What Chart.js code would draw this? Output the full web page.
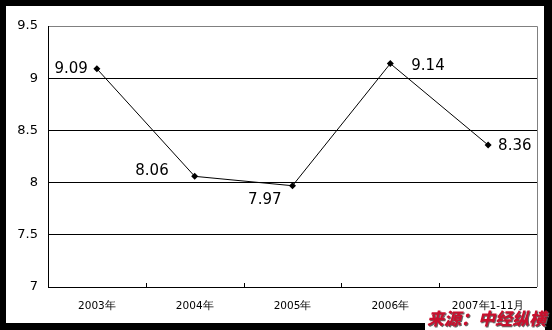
<!DOCTYPE html>
<html><head><meta charset="utf-8">
<script src="https://cdn.jsdelivr.net/npm/chart.js@4/dist/chart.umd.min.js"></script>
<style>
html,body{margin:0;padding:0;background:#000;width:552px;height:330px;overflow:hidden;}
#frame{position:absolute;left:6px;top:6px;width:538px;height:317px;background:#fff;}
#wrap{position:absolute;left:0;top:0;width:552px;height:330px;}
#srcbox{position:absolute;left:425px;top:312px;width:120px;height:18px;background:#fff;}
#src{position:absolute;left:427px;top:309px;font-family:"Noto Sans CJK SC";font-weight:900;font-style:italic;font-size:17px;line-height:18px;color:#c8102e;text-shadow:1px 1px 0 #666;white-space:nowrap;}
</style></head><body>
<div id="frame"></div>
<div id="srcbox"></div>
<div id="wrap"><canvas id="c" width="552" height="330"></canvas></div>
<div id="src">来源：中经纵横</div>
<script>
const categories = ["2003年","2004年","2005年","2006年","2007年1-11月"];
const values = [9.09, 8.06, 7.97, 9.14, 8.36];
const yTicks = [7, 7.5, 8, 8.5, 9, 9.5];
const yTickLabels = ["7","7.5","8","8.5","9","9.5"];
// label placement (style): side relative to point
const labelPlace = [
  {align:"right", dx:-9, dy:0},
  {align:"right", dx:-26, dy:-5},
  {align:"right", dx:-11, dy:14},
  {align:"left", dx:21, dy:3},
  {align:"left", dx:10, dy:1}
];

const dataLabels = {
  id:"dataLabels",
  afterDatasetsDraw(chart){
    const ctx = chart.ctx;
    const meta = chart.getDatasetMeta(0);
    ctx.save();
    ctx.font = "15px 'DejaVu Sans'";
    ctx.fillStyle = "#000";
    ctx.textBaseline = "middle";
    meta.data.forEach((pt,i)=>{
      const p = labelPlace[i];
      ctx.textAlign = p.align;
      ctx.fillText(values[i].toFixed(2), pt.x + p.dx, pt.y + p.dy);
    });
    ctx.restore();
  }
};
const innerTicks = {
  id:"innerTicks",
  afterDraw(chart){
    const x = chart.scales.x, ctx = chart.ctx;
    const bottom = chart.chartArea.bottom;
    ctx.save();
    ctx.strokeStyle="#000"; ctx.lineWidth=1;
    for(let i=0;i<=categories.length;i++){
      const px = Math.round(x.getPixelForValue(i-0.5))+0.5;
      ctx.beginPath(); ctx.moveTo(px,bottom); ctx.lineTo(px,bottom-4); ctx.stroke();
    }
    const a = chart.chartArea;
    ctx.strokeStyle="#808080";
    ctx.beginPath();
    ctx.moveTo(a.left, Math.round(a.top)+0.5); ctx.lineTo(Math.round(a.right)+0.5, Math.round(a.top)+0.5);
    ctx.lineTo(Math.round(a.right)+0.5, a.bottom); ctx.stroke();
    ctx.strokeStyle="#000";
    ctx.beginPath();
    ctx.moveTo(Math.round(a.left)+0.5, a.top); ctx.lineTo(Math.round(a.left)+0.5, Math.round(a.bottom)+0.5);
    ctx.lineTo(a.right, Math.round(a.bottom)+0.5); ctx.stroke();
    ctx.restore();
  }
};

new Chart(document.getElementById("c"), {
  type:"line",
  data:{labels:categories, datasets:[{
    data:values, borderColor:"#000", borderWidth:1, tension:0,
    pointStyle:"rectRot", pointRadius:3.5, pointBackgroundColor:"#000", pointBorderColor:"#000", pointBorderWidth:0
  }]},
  options:{
    responsive:false, animation:false, devicePixelRatio:1,
    layout:{padding:{top:26, right:15, left:0, bottom:0}},
    plugins:{legend:{display:false}, tooltip:{enabled:false}},
    scales:{
      x:{
        offset:true,
        grid:{display:false, offset:true},
        border:{display:false},
        ticks:{color:"#000", font:{family:"'DejaVu Sans'", size:10.5}, padding:5, maxRotation:0, autoSkip:false},
        afterFit(s){ s.height = 43; }
      },
      y:{
        min:7, max:9.5,
        afterBuildTicks(s){ s.ticks = yTicks.map(v=>({value:v})); },
        grid:{color:(c)=> c.tick && c.tick.value===9.5 ? "rgba(0,0,0,0)" : "#000", drawTicks:false, lineWidth:1},
        border:{display:false},
        ticks:{color:"#000", font:{family:"'DejaVu Sans'", size:13}, padding:10,
          callback:(v,i)=> yTickLabels[yTicks.indexOf(v)]},
        afterFit(s){ s.width = 48; }
      }
    }
  },
  plugins:[dataLabels, innerTicks]
});
</script>
</body></html>
